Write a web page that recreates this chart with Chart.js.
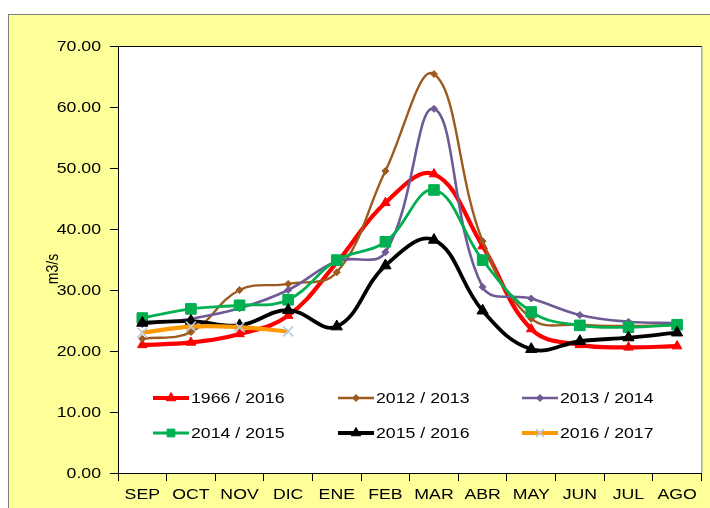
<!DOCTYPE html>
<html>
<head>
<meta charset="utf-8">
<script src="https://cdn.jsdelivr.net/npm/chart.js@4.4.0/dist/chart.umd.min.js"></script>
<style>
  html, body { margin: 0; padding: 0; background: #fff; }
  canvas { display: block; }
</style>
</head>
<body>
<canvas id="chart" width="710" height="508"></canvas>
<script>
const months = ["SEP", "OCT", "NOV", "DIC", "ENE", "FEB", "MAR", "ABR", "MAY", "JUN", "JUL", "AGO"];
const yTicks = [0, 10, 20, 30, 40, 50, 60, 70];
const yTitle = "m3/s";

const seriesNames = ["1966 / 2016", "2012 / 2013", "2013 / 2014", "2014 / 2015", "2015 / 2016", "2016 / 2017"];
const s1966 = [21.0, 21.4, 22.8, 25.8, 34.5, 44.3, 49.0, 37.2, 23.6, 21.0, 20.6, 20.8];
const s2012 = [22.0, 23.1, 30.0, 31.0, 32.9, 49.5, 65.4, 38.0, 25.3, 24.3, 24.1, 24.3];
const s2013 = [24.4, 25.3, 27.0, 30.0, 34.7, 36.2, 59.7, 30.5, 28.6, 25.9, 24.8, 24.6];
const s2014 = [25.4, 26.9, 27.5, 28.4, 34.9, 37.9, 46.4, 34.9, 26.4, 24.2, 23.9, 24.3];
const s2015 = [24.6, 24.9, 24.2, 26.7, 24.0, 34.0, 38.2, 26.6, 20.3, 21.6, 22.2, 23.0];
const s2016 = [23.0, 24.0, 23.9, 23.2];

const FONT = "'Liberation Sans', Arial, sans-serif";
const STRETCH = 1.18; // texto del original algo ensanchado

// estilo de cada serie (linea, marcador)
const styles = [
  { color: "#ff0000", width: 4.2, point: "triangle", radius: 5.5, pcolor: "#ff0000" },
  { color: "#9c5a1e", width: 2.4, point: "rectRot", radius: 3.5, pcolor: "#9c5a1e" },
  { color: "#6e5a94", width: 2.6, point: "rectRot", radius: 3.5, pcolor: "#6e5a94" },
  { color: "#00b050", width: 2.8, point: "rect", radius: 7.5, pcolor: "#00b050" },
  { color: "#000000", width: 3.8, point: "triangle", radius: 6.5, pcolor: "#000000" },
  { color: "#ff9900", width: 4.2, point: "crossRot", radius: 7, pcolor: "#b8c8e0" },
];
const values = [s1966, s2012, s2013, s2014, s2015, s2016];

const datasets = values.map((data, i) => ({
  label: seriesNames[i],
  data: data,
  borderColor: styles[i].color,
  borderWidth: styles[i].width,
  backgroundColor: styles[i].pcolor,
  pointStyle: styles[i].point,
  pointRadius: styles[i].radius,
  pointBackgroundColor: styles[i].pcolor,
  pointBorderColor: styles[i].pcolor,
  pointBorderWidth: styles[i].point === "crossRot" ? 1.6 : 1,
  tension: 0.4,
  fill: false,
  order: values.length - i, // como Excel: la ultima serie encima
}));

function stretchText(ctx, text, x, y, align) {
  ctx.save();
  ctx.translate(x, y);
  ctx.scale(STRETCH, 1);
  ctx.textAlign = align;
  ctx.fillText(text, 0, 0);
  ctx.restore();
}

const frame = {
  id: "frame",
  beforeDraw(chart) {
    const { ctx, chartArea: a } = chart;
    ctx.save();
    ctx.fillStyle = "#ffffff";
    ctx.fillRect(0, 0, chart.width, chart.height);
    ctx.fillStyle = "#ffff99";
    ctx.fillRect(8, 14, chart.width, chart.height);
    ctx.strokeStyle = "#7f7f7f";
    ctx.lineWidth = 1;
    ctx.strokeRect(8.5, 14.5, chart.width + 10, chart.height + 10);
    ctx.fillStyle = "#ffffff";
    ctx.fillRect(a.left, a.top, a.right - a.left, a.bottom - a.top);
    ctx.strokeStyle = "#000000";
    ctx.beginPath();
    ctx.moveTo(a.left, a.top + 0.5);
    ctx.lineTo(a.right + 0.5, a.top + 0.5);
    ctx.stroke();
    ctx.strokeStyle = "#808080";
    ctx.beginPath();
    ctx.moveTo(a.right + 0.5, a.top);
    ctx.lineTo(a.right + 0.5, a.bottom);
    ctx.stroke();
    ctx.restore();
  },
  afterDraw(chart) {
    const { ctx, scales } = chart;
    ctx.save();
    ctx.fillStyle = "#000000";
    ctx.font = "15px " + FONT;
    ctx.textBaseline = "middle";

    // etiquetas eje Y
    scales.y.ticks.forEach((t, i) => {
      const y = scales.y.getPixelForTick(i);
      stretchText(ctx, t.value.toFixed(2), 101, y + 1, "right");
    });
    // etiquetas eje X
    months.forEach((m, i) => {
      const x = scales.x.getPixelForValue(i);
      stretchText(ctx, m, x, 495, "center");
    });
    // titulo eje Y
    ctx.save();
    ctx.translate(53, 269);
    ctx.rotate(-Math.PI / 2);
    ctx.font = "14px " + FONT;
    ctx.textAlign = "center";
    ctx.scale(1, STRETCH);
    ctx.fillText(yTitle, 0, 0);
    ctx.restore();

    // leyenda dentro del area
    const cols = [153, 338, 522];
    const rows = [398, 433];
    seriesNames.forEach((name, i) => {
      const x0 = cols[i % 3];
      const y = rows[Math.floor(i / 3)];
      const st = styles[i];
      ctx.strokeStyle = st.color;
      ctx.lineWidth = st.width;
      ctx.beginPath();
      ctx.moveTo(x0, y);
      ctx.lineTo(x0 + 36, y);
      ctx.stroke();
      ctx.fillStyle = st.pcolor;
      ctx.strokeStyle = st.pcolor;
      ctx.lineWidth = st.point === "crossRot" ? 1.6 : 1;
      Chart.helpers.drawPoint(ctx, { pointStyle: st.point, radius: Math.min(st.radius, 5.5), rotation: 0, borderWidth: 1 }, x0 + 18, y);
      ctx.fillStyle = "#000000";
      stretchText(ctx, name, x0 + 38, y + 1, "left");
    });
    ctx.restore();
  },
};

new Chart(document.getElementById("chart"), {
  type: "line",
  data: { labels: months, datasets },
  options: {
    responsive: false,
    animation: false,
    devicePixelRatio: 1,
    layout: { padding: { top: 46, right: 7, left: 0, bottom: 0 } },
    plugins: { legend: { display: false }, tooltip: { enabled: false } },
    scales: {
      x: {
        offset: true,
        grid: { offset: true, drawOnChartArea: false, drawTicks: true, tickLength: 8, color: "#000000" },
        border: { display: true, color: "#000000", width: 1 },
        ticks: { display: false },
        afterFit: (s) => { s.height = 35; },
      },
      y: {
        min: 0,
        max: 70,
        afterBuildTicks: (s) => { s.ticks = yTicks.map((v) => ({ value: v })); },
        grid: { drawOnChartArea: false, drawTicks: true, tickLength: 8, color: "#000000" },
        border: { display: true, color: "#000000", width: 1 },
        ticks: { display: false },
        afterFit: (s) => { s.width = 118; },
      },
    },
  },
  plugins: [frame],
});
</script>
</body>
</html>
